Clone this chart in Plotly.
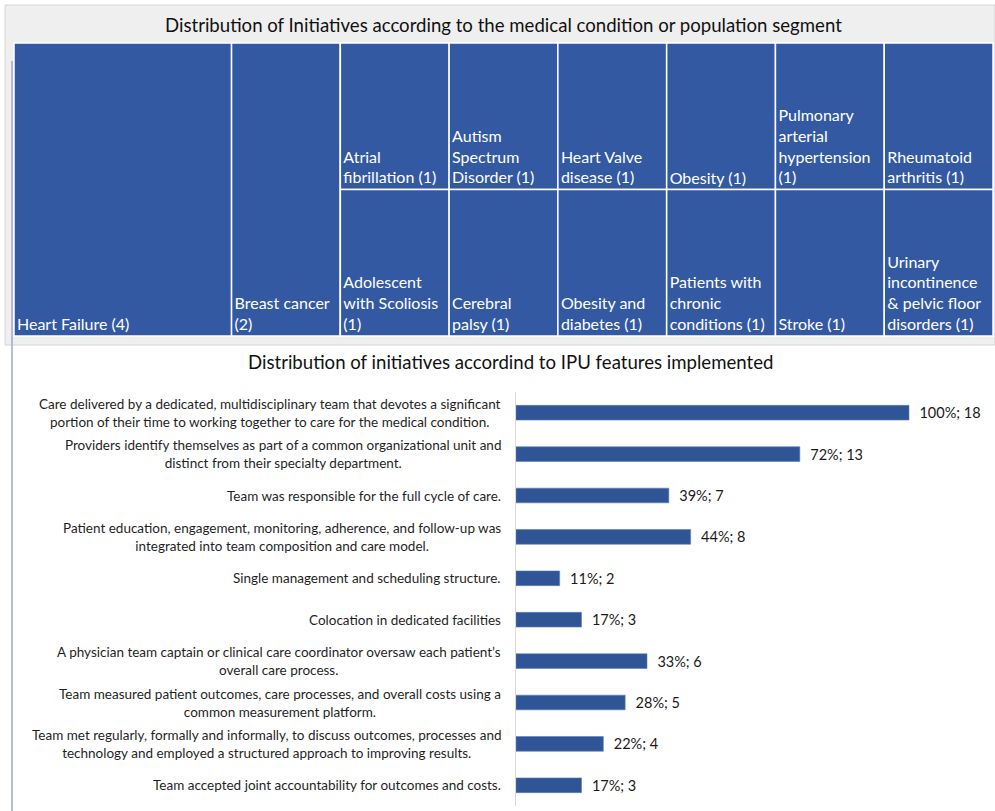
import plotly.graph_objects as go

W, H = 995, 811

# ---------------- Treemap data ----------------
condition_labels = [
    "Heart Failure ", "Breast cancer<br>",
    "Atrial<br>fibrillation ", "Adolescent<br>with Scoliosis<br>",
    "Autism<br>Spectrum<br>Disorder ", "Cerebral<br>palsy ",
    "Heart Valve<br>disease ", "Obesity and<br>diabetes ",
    "Obesity ", "Patients with<br>chronic<br>conditions ",
    "Pulmonary<br>arterial<br>hypertension<br>", "Stroke ",
    "Rheumatoid<br>arthritis ", "Urinary<br>incontinence<br>& pelvic floor<br>disorders ",
]
condition_counts = [4, 2, 1, 1, 1, 1, 1, 1, 1, 1, 1, 1, 1, 1]
condition_column = [0, 1, 2, 2, 3, 3, 4, 4, 5, 5, 6, 6, 7, 7]

# ---------------- Bar data ----------------
features = [
    "Care delivered by a dedicated, multidisciplinary team that devotes a significant<br>portion of their time to working together to care for the medical condition.",
    "Providers identify themselves as part of a common organizational unit and<br>distinct from their specialty department.",
    "Team was responsible for the full cycle of care.",
    "Patient education, engagement, monitoring, adherence, and follow-up was<br>integrated into team composition and care model.",
    "Single management and scheduling structure.",
    "Colocation in dedicated facilities",
    "A physician team captain or clinical care coordinator oversaw each patient’s<br>overall care process.",
    "Team measured patient outcomes, care processes, and overall costs using a<br>common measurement platform.",
    "Team met regularly, formally and informally, to discuss outcomes, processes and<br>technology and employed a structured approach to improving results.",
    "Team accepted joint accountability for outcomes and costs.",
]
feature_pct = [100, 72, 39, 44, 11, 17, 33, 28, 22, 17]
feature_counts = [18, 13, 7, 8, 2, 3, 6, 5, 4, 3]

FONT = "Lato"
CELL = "#3459a3"
BAR = "#2f5597"

# build treemap hierarchy
ids, labels, parents, values, texts = [], [], [], [], []
for c in sorted(set(condition_column)):
    members = [i for i, col in enumerate(condition_column) if col == c]
    if len(members) == 1:
        i = members[0]
        ids.append(f"n{i}"); labels.append(f"n{i}"); parents.append("")
        values.append(condition_counts[i]); texts.append(f"{condition_labels[i]}({condition_counts[i]})")
    else:
        gid = f"col{c}"
        ids.append(gid); labels.append(gid); parents.append("")
        values.append(sum(condition_counts[i] for i in members)); texts.append("")
        for i in members:
            ids.append(f"n{i}"); labels.append(f"n{i}"); parents.append(gid)
            values.append(condition_counts[i]); texts.append(f"{condition_labels[i]}({condition_counts[i]})")

fig = go.Figure()

fig.add_trace(go.Treemap(
    ids=ids, labels=labels, parents=parents, values=values,
    branchvalues="total", sort=False,
    text=texts, textinfo="text", textposition="bottom left",
    tiling=dict(packing="slice-dice", pad=0),
    marker=dict(colors=[CELL] * len(ids), line=dict(color="white", width=1.5),
                pad=dict(t=0, l=0, r=0, b=0)),
    textfont=dict(family=FONT, size=16, color="white"),
    pathbar=dict(visible=False),
    domain=dict(x=[14 / W, 993 / W], y=[1 - 336 / H, 1 - 43 / H]),
    hoverinfo="skip",
))

fig.add_trace(go.Bar(
    x=feature_counts, y=features, orientation="h",
    marker=dict(color=BAR, line=dict(color="#5b7fc0", width=0.6)),
    text=[f"  {p}%; {c}" for p, c in zip(feature_pct, feature_counts)],
    textposition="outside", constraintext="none", cliponaxis=False,
    textfont=dict(family=FONT, size=14.5, color="#1a1a1a"),
    hoverinfo="skip",
))

px_per_unit = 393 / 18
xmax = 21
fig.update_layout(
    width=W, height=H, margin=dict(l=0, r=0, t=0, b=0),
    paper_bgcolor="white", plot_bgcolor="white",
    showlegend=False, bargap=0.645,
    font=dict(family=FONT),
    xaxis=dict(domain=[516 / W, (516 + xmax * px_per_unit) / W], range=[0, xmax],
               visible=False, fixedrange=True),
    yaxis=dict(domain=[1 - 806 / H, 1 - 392 / H], type="category", autorange="reversed",
               showticklabels=False, showgrid=False, zeroline=False,
               showline=True, linecolor="#d9d9d9", linewidth=1, ticks=""),
    shapes=[
        dict(type="rect", xref="paper", yref="paper", x0=5 / W, x1=1, y0=1 - 345 / H, y1=1 - 5 / H,
             fillcolor="#efefef", line=dict(color="#d4d4d4", width=1), layer="below"),
        dict(type="line", xref="paper", yref="paper", x0=12 / W, x1=12 / W, y0=0, y1=1 - 61 / H,
             line=dict(color="#9aaac8", width=1.5), layer="below"),
    ],
)

annotations = [
    dict(text="Distribution of Initiatives according to the medical condition or population segment",
         xref="paper", yref="paper", x=503.5 / W, y=1 - 25 / H, xanchor="center", yanchor="middle",
         showarrow=False, font=dict(family=FONT, size=18.6, color="#111111")),
    dict(text="Distribution of initiatives accordind to IPU features implemented",
         xref="paper", yref="paper", x=510 / W, y=1 - 362 / H, xanchor="center", yanchor="middle",
         showarrow=False, font=dict(family=FONT, size=18.6, color="#111111")),
]
for f in features:
    annotations.append(dict(text=f, xref="paper", yref="y", x=503 / W, y=f, xanchor="right",
                            yanchor="middle", align="center", showarrow=False,
                            font=dict(family=FONT, size=13.5, color="#1f1f1f")))
fig.update_layout(annotations=annotations)

fig.write_html("out.html")
